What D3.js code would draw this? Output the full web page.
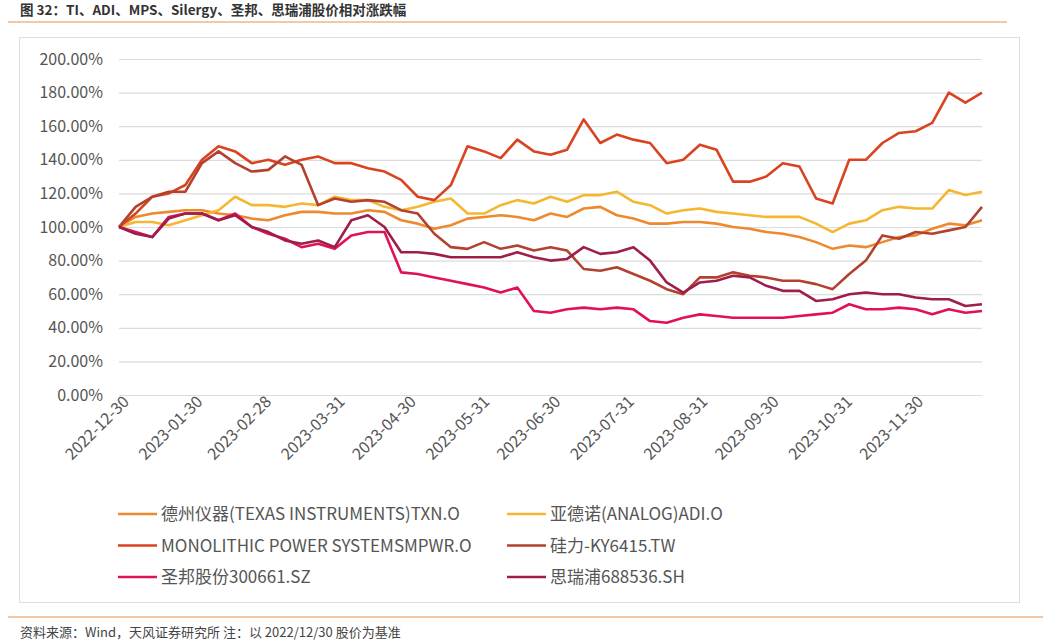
<!DOCTYPE html>
<html>
<head>
<meta charset="utf-8">
<script src="https://cdn.jsdelivr.net/npm/d3@7"></script>
<style>
body { margin: 0; background: #fff; }
text { font-family: "Noto Sans CJK SC", "Liberation Sans", sans-serif; }
</style>
</head>
<body>
<svg id="chart" width="1043" height="641"></svg>
<script>
// weekly closes, % of 2022-12-30 price
var startDate = new Date(2022, 11, 30);
var dates = d3.range(53).map(k => d3.timeDay.offset(startDate, 7 * k));

var txn = [100,106,108,109,110,110,108,107,105,104,107,109,109,108,108,110,109,104,102,99,101,105,106,107,106,104,108,106,111,112,107,105,102,102,103,103,102,100,99,97,96,94,91,87,89,88,91,94,95,99,102,101,104];
var adi = [100,103,103,101,104,107,110,118,113,113,112,114,113,118,116,116,112,110,112,115,117,108,108,113,116,114,118,115,119,119,121,115,113,108,110,111,109,108,107,106,106,106,102,97,102,104,110,112,111,111,122,119,121];
var mpwr = [100,108,118,120,125,140,148,145,138,140,137,140,142,138,138,135,133,128,118,116,125,148,145,141,152,145,143,146,164,150,155,152,150,138,140,149,146,127,127,130,138,136,117,114,140,140,150,156,157,162,180,174,180];
var silergy = [100,112,118,121,121,138,145,138,133,134,142,137,113,117,115,116,115,110,108,96,88,87,91,87,89,86,88,86,75,74,76,72,68,63,60,70,70,73,71,70,68,68,66,63,72,80,95,93,97,96,98,100,112];
var sgmicro = [100,97,94,106,108,108,104,108,100,96,93,88,90,87,95,97,97,73,72,70,68,66,64,61,64,50,49,51,52,51,52,51,44,43,46,48,47,46,46,46,46,47,48,49,54,51,51,52,51,48,51,49,50];
var threepeak = [100,96,94,105,108,108,104,107,100,97,92,90,92,88,104,107,100,85,85,84,82,82,82,82,85,82,80,81,88,84,85,88,80,67,61,67,68,71,70,65,62,62,56,57,60,61,60,60,58,57,57,53,54];

var seriesNames = ['德州仪器(TEXAS INSTRUMENTS)TXN.O', '亚德诺(ANALOG)ADI.O', 'MONOLITHIC POWER SYSTEMSMPWR.O', '硅力-KY6415.TW', '圣邦股份300661.SZ', '思瑞浦688536.SH'];
var seriesValues = [txn, adi, mpwr, silergy, sgmicro, threepeak];
var seriesColors = ['#EE8A2E', '#F5B731', '#D9431F', '#B2412F', '#E0105C', '#9E1E4A'];
var xTickLabels = ['2022-12-30','2023-01-30','2023-02-28','2023-03-31','2023-04-30','2023-05-31','2023-06-30','2023-07-31','2023-08-31','2023-09-30','2023-10-31','2023-11-30'];
var yTicks = d3.range(0, 201, 20);

var svg = d3.select('#chart');
var parse = d3.timeParse('%Y-%m-%d');

var x = d3.scaleTime().domain([startDate, dates[52]]).range([119, 982]);
var y = d3.scaleLinear().domain([0, 200]).range([395, 59]);

// title and rules
svg.append('text').attr('x', 20).attr('y', 15).attr('font-size', 13.5).attr('font-weight', 'bold')
    .attr('fill', '#333').text('图 32：TI、ADI、MPS、Silergy、圣邦、思瑞浦股价相对涨跌幅');
svg.append('line').attr('x1', 8).attr('x2', 1007).attr('y1', 22).attr('y2', 22).attr('stroke', '#E8914A').attr('stroke-width', 1);
svg.append('rect').attr('x', 19.5).attr('y', 37.5).attr('width', 1000).attr('height', 565)
    .attr('fill', 'none').attr('stroke', '#ddd');
svg.append('line').attr('x1', 8).attr('x2', 1043).attr('y1', 617).attr('y2', 617).attr('stroke', '#E8914A').attr('stroke-width', 1);
svg.append('text').attr('x', 20).attr('y', 637).attr('font-size', 13).attr('fill', '#444')
    .text('资料来源：Wind，天风证券研究所 注：以 2022/12/30 股价为基准');

// y axis with gridlines
var yAxis = svg.append('g').attr('transform', 'translate(119,0)')
    .call(d3.axisLeft(y).tickValues(yTicks).tickSize(0).tickPadding(16).tickFormat(d => d.toFixed(2) + '%'));
yAxis.select('.domain').remove();
yAxis.selectAll('text').attr('font-size', 16).attr('fill', '#555');
yAxis.selectAll('.tick').append('line').attr('x1', 0).attr('x2', 982 - 119)
    .attr('stroke', '#dcdcdc').attr('stroke-width', 1.2);

// x axis
var xAxis = svg.append('g').attr('transform', 'translate(0,395)')
    .call(d3.axisBottom(x).tickValues(xTickLabels.map(parse)).tickSize(0).tickFormat(d3.timeFormat('%Y-%m-%d')));
xAxis.select('.domain').attr('stroke', '#dcdcdc');
xAxis.selectAll('text').attr('font-size', 16).attr('fill', '#555')
    .attr('text-anchor', 'end').attr('dx', 2).attr('dy', 10)
    .attr('transform', 'rotate(-45)');

// lines
var line = d3.line().x((d, i) => x(dates[i])).y(d => y(d));
seriesValues.forEach(function(vals, i) {
    svg.append('path').datum(vals).attr('d', line).attr('fill', 'none')
        .attr('stroke', seriesColors[i]).attr('stroke-width', 2.6).attr('stroke-linejoin', 'round');
});

// legend
seriesNames.forEach(function(name, i) {
    var lx = i % 2 === 0 ? 118 : 507;
    var ly = 514 + Math.floor(i / 2) * 31.5;
    svg.append('line').attr('x1', lx).attr('x2', lx + 39).attr('y1', ly).attr('y2', ly)
        .attr('stroke', seriesColors[i]).attr('stroke-width', 2.5);
    svg.append('text').attr('x', lx + 43).attr('y', ly + 6).attr('font-size', 17).attr('fill', '#555').text(name);
});
</script>
</body>
</html>
